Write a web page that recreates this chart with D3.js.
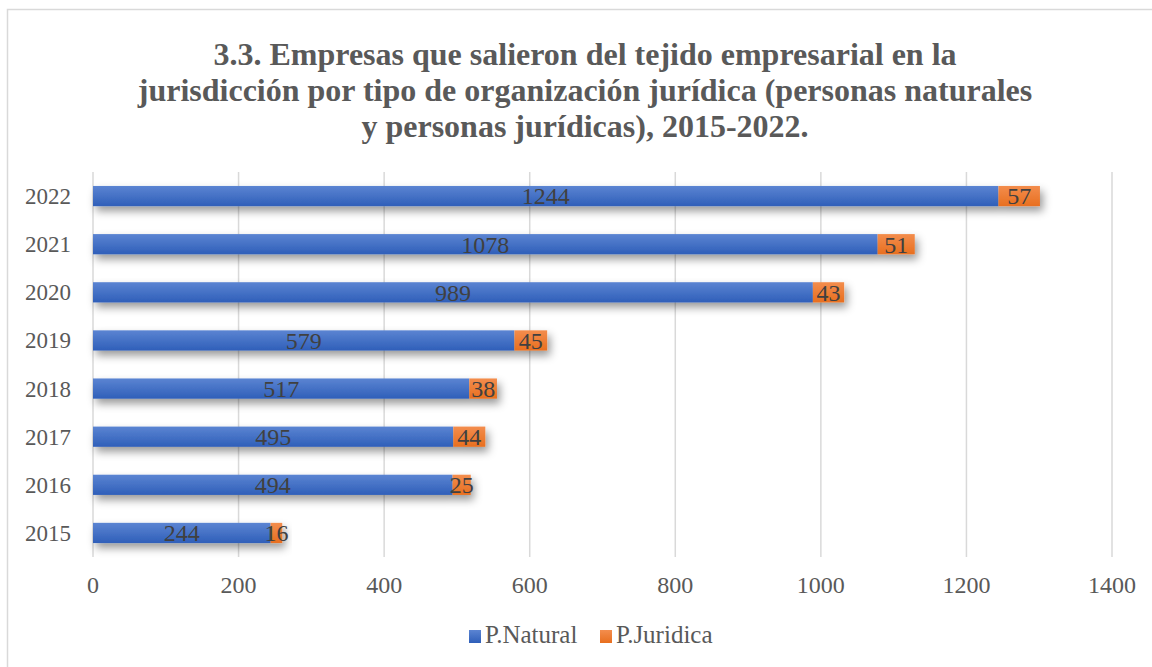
<!DOCTYPE html>
<html>
<head>
<meta charset="utf-8">
<script src="https://cdn.jsdelivr.net/npm/d3@7.9.0/dist/d3.min.js"></script>
<style>
  body { margin: 0; background: #fff; }
</style>
</head>
<body>
<svg width="1152" height="667"></svg>
<script>
const years = ['2022', '2021', '2020', '2019', '2018', '2017', '2016', '2015'];
const natural = [1244, 1078, 989, 579, 517, 495, 494, 244];
const juridica = [57, 51, 43, 45, 38, 44, 25, 16];
const xTicks = [0, 200, 400, 600, 800, 1000, 1200, 1400];
const seriesNames = ['P.Natural', 'P.Juridica'];
const titleLines = [
  '3.3. Empresas que salieron del tejido empresarial en la',
  'jurisdicción por tipo de organización jurídica (personas naturales',
  'y personas jurídicas), 2015-2022.'
];

const FONT = '"Liberation Serif"';
const svg = d3.select('svg').style('font-family', FONT);
const defs = svg.append('defs');

function grad(id, top, bottom) {
  const g = defs.append('linearGradient').attr('id', id)
    .attr('x1', 0).attr('y1', 0).attr('x2', 0).attr('y2', 1);
  g.append('stop').attr('offset', '0%').attr('stop-color', top);
  g.append('stop').attr('offset', '100%').attr('stop-color', bottom);
}
grad('gBlue', '#5b84d2', '#2f5fb9');
grad('gOrange', '#f38d4d', '#e86f1f');

const f = defs.append('filter').attr('id', 'shadow')
  .attr('x', '-5%').attr('y', '-50%').attr('width', '110%').attr('height', '250%');
f.append('feDropShadow').attr('dx', 3).attr('dy', 5).attr('stdDeviation', 4)
  .attr('flood-color', '#000').attr('flood-opacity', 0.4);

// chart border
svg.append('rect').attr('x', 7.5).attr('y', 9.5).attr('width', 1160).attr('height', 670)
  .attr('fill', 'none').attr('stroke', '#d9d9d9').attr('stroke-width', 1.5);

// title
svg.append('text')
  .attr('text-anchor', 'middle')
  .style('font-family', FONT)
  .style('font-weight', 'bold')
  .attr('font-size', 32)
  .attr('fill', '#595959')
  .selectAll('tspan')
  .data(titleLines)
  .join('tspan')
  .attr('x', 585)
  .attr('y', (d, i) => 65 + i * 36)
  .text(d => d);

const x = d3.scaleLinear().domain([0, 1400]).range([93, 1112]);
const y = d3.scaleBand().domain(years).range([172, 557]).paddingInner(0.58).paddingOuter(0.29);

// gridlines
svg.append('g')
  .selectAll('line')
  .data(xTicks)
  .join('line')
  .attr('x1', d => x(d)).attr('x2', d => x(d))
  .attr('y1', 172).attr('y2', 557)
  .attr('stroke', '#d9d9d9').attr('stroke-width', 1.5);

// x tick labels
svg.append('g')
  .selectAll('text')
  .data(xTicks)
  .join('text')
  .style('font-family', FONT)
  .attr('x', d => x(d))
  .attr('y', 593)
  .attr('text-anchor', 'middle')
  .attr('font-size', 24)
  .attr('fill', '#595959')
  .text(d => d);

// y labels
svg.append('g')
  .selectAll('text')
  .data(years)
  .join('text')
  .style('font-family', FONT)
  .attr('x', 71)
  .attr('y', d => y(d) + y.bandwidth() / 2)
  .attr('dy', '0.35em')
  .attr('text-anchor', 'end')
  .attr('font-size', 23)
  .attr('fill', '#595959')
  .text(d => d);

const rows = years.map((yr, i) => ({ year: yr, n: natural[i], j: juridica[i] }));

const bars = svg.append('g').selectAll('g').data(rows).join('g')
  .attr('filter', 'url(#shadow)');
bars.append('rect')
  .attr('x', x(0))
  .attr('y', d => y(d.year))
  .attr('width', d => x(d.n) - x(0))
  .attr('height', y.bandwidth())
  .attr('fill', 'url(#gBlue)');
bars.append('rect')
  .attr('x', d => x(d.n))
  .attr('y', d => y(d.year))
  .attr('width', d => x(d.n + d.j) - x(d.n))
  .attr('height', y.bandwidth())
  .attr('fill', 'url(#gOrange)');

const labels = svg.append('g').selectAll('g').data(rows).join('g');
labels.append('text')
  .style('font-family', FONT)
  .attr('x', d => (x(0) + x(d.n)) / 2)
  .attr('y', d => y(d.year) + y.bandwidth() / 2)
  .attr('dy', '0.35em')
  .attr('text-anchor', 'middle')
  .attr('font-size', 24)
  .attr('fill', '#404040')
  .text(d => d.n);
labels.append('text')
  .style('font-family', FONT)
  .attr('x', d => (x(d.n) + x(d.n + d.j)) / 2)
  .attr('y', d => y(d.year) + y.bandwidth() / 2)
  .attr('dy', '0.35em')
  .attr('text-anchor', 'middle')
  .attr('font-size', 24)
  .attr('fill', '#404040')
  .text(d => d.j);

// legend
const legend = svg.append('g');
const legendX = [469, 600];
const fills = ['url(#gBlue)', 'url(#gOrange)'];
seriesNames.forEach((name, i) => {
  legend.append('rect')
    .attr('x', legendX[i]).attr('y', 630)
    .attr('width', 12).attr('height', 13)
    .attr('fill', fills[i]);
  legend.append('text')
    .style('font-family', FONT)
    .attr('x', legendX[i] + 16).attr('y', 643)
    .attr('font-size', 25)
    .attr('fill', '#595959')
    .text(name);
});
</script>
</body>
</html>
